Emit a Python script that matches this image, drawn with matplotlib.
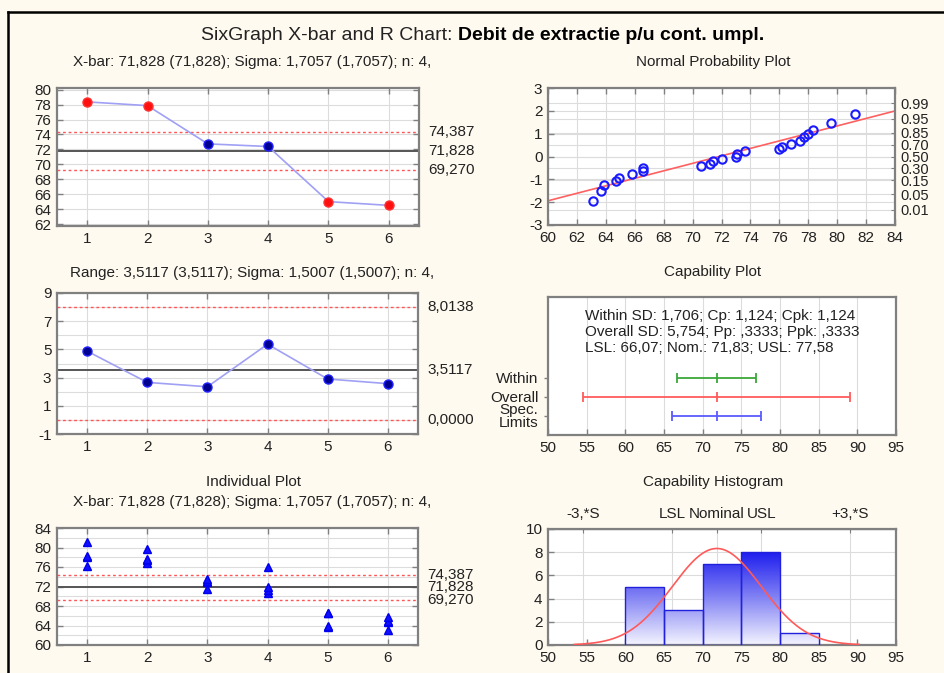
import numpy as np
import matplotlib
matplotlib.use("Agg")
import matplotlib.pyplot as plt
from matplotlib.colors import LinearSegmentedColormap
from matplotlib.lines import Line2D
import matplotlib.transforms as mtransforms

plt.rcParams['font.family'] = ['Liberation Sans', 'DejaVu Sans']
plt.rcParams['axes.unicode_minus'] = False

# ---------------- data ----------------
subgroups = [1, 2, 3, 4, 5, 6]
xbar_values = [78.35, 77.85, 72.75, 72.40, 65.05, 64.55]
xbar_limits = [74.387, 71.828, 69.270]          # UCL, CL, LCL
xbar_limit_labels = ["74,387", "71,828", "69,270"]

range_values = [4.88, 2.66, 2.35, 5.37, 2.90, 2.57]
range_limits = [8.0138, 3.5117, 0.0]
range_limit_labels = ["8,0138", "3,5117", "0,0000"]

individuals = [
    [76.2, 78.0, 78.3, 81.2],
    [76.8, 77.4, 77.7, 79.6],
    [71.4, 73.0, 73.1, 73.6],
    [70.6, 71.2, 72.0, 76.0],
    [63.7, 63.9, 66.6, 66.6],
    [63.1, 64.7, 64.9, 65.8],
]

npp_z = [-1.95, -1.51, -1.25, -1.09, -0.92, -0.76, -0.64, -0.49, -0.41, -0.32,
         -0.20, -0.10, -0.01, 0.13, 0.25, 0.32, 0.42, 0.55, 0.70, 0.85, 0.99,
         1.18, 1.47, 1.88]
fit_mean = 71.83
fit_sd = 6.1
prob_labels = ["0.01", "0.05", "0.15", "0.30", "0.50", "0.70", "0.85", "0.95", "0.99"]
prob_z = [-2.326, -1.645, -1.036, -0.524, 0.0, 0.524, 1.036, 1.645, 2.326]

cap_names = ["Within", "Overall", "Spec.\nLimits"]
cap_center = [71.83, 71.83, 71.83]
cap_low = [66.71, 54.57, 66.07]
cap_high = [76.95, 89.09, 77.58]
cap_colors = ["#3aa83a", "#ff5a5a", "#5a5aff"]
cap_text = ("Within SD: 1,706; Cp: 1,124; Cpk: 1,124\n"
            "Overall SD: 5,754; Pp: ,3333; Ppk: ,3333\n"
            "LSL: 66,07; Nom.: 71,83; USL: 77,58")

hist_left = [60, 65, 70, 75, 80]
hist_counts = [5, 3, 7, 8, 1]
hist_width = 5
overall_mean = 71.83
overall_sd = 5.754
n_total = 24
top_marks = [54.57, 66.07, 71.83, 77.58, 89.09]
top_labels = ["-3,*S", "LSL", "Nominal", "USL", "+3,*S"]

xbar_sub = "X-bar: 71,828 (71,828); Sigma: 1,7057 (1,7057); n: 4,"
range_sub = "Range: 3,5117 (3,5117); Sigma: 1,5007 (1,5007); n: 4,"

# ---------------- style ----------------
W, H = 944, 673
BG = "#fffaf0"
GRID = "#dcdcdc"
FRAME = "#808080"
TXT = "#222222"
TS = 11
SUB = 11

fig = plt.figure(figsize=(W / 100, H / 100), dpi=100, facecolor=BG)


def box(l, t, r, b):
    return [l / W, 1 - b / H, (r - l) / W, (b - t) / H]


def style(ax):
    ax.set_facecolor("white")
    for s in ax.spines.values():
        s.set_color(FRAME)
        s.set_linewidth(1.6)
    ax.tick_params(direction="in", length=4, width=1, color=FRAME,
                   labelsize=TS, labelcolor=TXT, top=True, right=True, pad=4)
    ax.set_axisbelow(True)


def ftext(xpx, ypx, s, **kw):
    kw.setdefault("fontsize", SUB)
    kw.setdefault("color", TXT)
    kw.setdefault("ha", "center")
    kw.setdefault("va", "center")
    fig.text(xpx / W, 1 - ypx / H, s, **kw)


# outer frame
fig.add_artist(Line2D([8 / W, 1.0], [1 - 11.5 / H, 1 - 11.5 / H], color="black", lw=1.8))
fig.add_artist(Line2D([8 / W, 8 / W], [1 - 11.5 / H, 0], color="black", lw=1.8))

# title (two parts)
t1 = fig.text(0, 1 - 36 / H, "SixGraph X-bar and R Chart: ", fontsize=14, color=TXT, va="center")
t2 = fig.text(0, 1 - 36 / H, "Debit de extractie p/u cont. umpl.", fontsize=14,
              fontweight="bold", color="black", va="center")
fig.canvas.draw()
w1 = t1.get_window_extent().width
w2 = t2.get_window_extent().width
x0 = 483 - (w1 + w2) / 2
t1.set_x(x0 / W)
t2.set_x((x0 + w1) / W)


def control_chart(ax, limits, labels, ylim, yticks):
    style(ax)
    ax.set_xlim(0.5, 6.5)
    ax.set_ylim(*ylim)
    ax.set_xticks(subgroups)
    ax.set_yticks(yticks)
    ax.grid(True, axis="x", color=GRID, lw=0.8)
    ax.axhline(limits[0], color="#ff5555", lw=1, ls=(0, (2, 2)))
    ax.axhline(limits[2], color="#ff5555", lw=1, ls=(0, (2, 2)))
    ax.axhline(limits[1], color="#555555", lw=1.4)
    trans = mtransforms.blended_transform_factory(ax.transAxes, ax.transData)
    for v, lab in zip(limits, labels):
        ax.text(1.025, v, lab, transform=trans, fontsize=TS, color=TXT,
                va="center", ha="left", clip_on=False)


# ---------- X-bar chart ----------
ax1 = fig.add_axes(box(57, 88, 419, 226))
control_chart(ax1, xbar_limits, xbar_limit_labels, (61.8, 80.2), np.arange(62, 81, 2))
for y in np.arange(62, 81, 2):
    ax1.axhline(y, color=GRID, lw=0.8, zorder=0)
ax1.plot(subgroups, xbar_values, color="#a0a0f5", lw=1.2, zorder=2)
for x, v in zip(subgroups, xbar_values):
    out = v > xbar_limits[0] or v < xbar_limits[2]
    ax1.plot(x, v, "o", ms=6.5, mfc="#ff1010" if out else "#000090",
             mec="#ff3030" if out else "#2020ff", mew=1, zorder=3)
ftext(252, 62, xbar_sub)

# ---------- Range chart ----------
ax2 = fig.add_axes(box(57, 293, 418, 434))
control_chart(ax2, range_limits, range_limit_labels, (-1, 9), [-1, 1, 3, 5, 7, 9])
for y in range(-1, 10):
    ax2.axhline(y, color=GRID, lw=0.8, zorder=0)
ax2.plot(subgroups, range_values, color="#a0a0f5", lw=1.2, zorder=2)
ax2.plot(subgroups, range_values, "o", ms=6.5, mfc="#000090", mec="#2020ff", mew=1, zorder=3)
ftext(252, 273, range_sub)

# ---------- Individual plot ----------
ax3 = fig.add_axes(box(57, 528, 418, 645))
control_chart(ax3, xbar_limits, xbar_limit_labels, (60, 84), np.arange(60, 85, 4))
for y in np.arange(60, 85, 2):
    ax3.axhline(y, color=GRID, lw=0.8, zorder=0)
for x, grp in zip(subgroups, individuals):
    ax3.plot([x] * len(grp), grp, "^", ms=6, color="#1010ff", mec="#0000ee", zorder=3)
ftext(253, 482, "Individual Plot")
ftext(252, 502, xbar_sub)

# ---------- Normal probability plot ----------
ax4 = fig.add_axes(box(548, 88, 895, 225))
style(ax4)
ax4.tick_params(right=False)
ax4.set_xlim(60, 84)
ax4.set_ylim(-3, 3)
ax4.set_xticks(np.arange(60, 85, 2))
ax4.set_yticks(np.arange(-3, 4, 1))
ax4.grid(True, axis="x", color=GRID, lw=0.8)
for y in list(range(-3, 4)) + prob_z:
    ax4.axhline(y, color=GRID, lw=0.8, zorder=0)
npp_x = sorted([v for grp in individuals for v in grp])
lx = np.array([60, 84])
ax4.plot(lx, (lx - fit_mean) / fit_sd, color="#ff6060", lw=1.2, zorder=2)
ax4.plot(npp_x, npp_z, "o", ms=6, mfc="none", mec="#1a1aff", mew=1.5, zorder=3)
ax4r = ax4.twinx()
ax4r.set_ylim(-3, 3)
ax4r.set_yticks(prob_z)
ax4r.set_yticklabels(prob_labels)
ax4r.tick_params(direction="in", length=3, color=FRAME, labelsize=10.5, labelcolor=TXT, pad=4)
for s in ax4r.spines.values():
    s.set_visible(False)
ftext(713, 62, "Normal Probability Plot")

# ---------- Capability plot ----------
ax5 = fig.add_axes(box(548, 297, 896, 435))
style(ax5)
ax5.tick_params(top=False, right=False)
ax5.tick_params(axis="y", direction="out", length=3)
ax5.set_xlim(50, 95)
ax5.set_ylim(0, 7.2)
ax5.set_xticks(np.arange(50, 96, 5))
ax5.grid(True, axis="x", color=GRID, lw=0.8)
cap_y = [3, 2, 1]
ax5.set_yticks(cap_y)
ax5.set_yticklabels(cap_names, linespacing=0.85)
for y, c, lo, hi, col in zip(cap_y, cap_center, cap_low, cap_high, cap_colors):
    ax5.hlines(y, lo, hi, color=col, lw=1.3)
    ax5.plot([lo, c, hi], [y, y, y], "|", color=col, ms=7, mew=1.3)
ax5.text(0.106, 0.915, cap_text, transform=ax5.transAxes, fontsize=11, color=TXT,
         va="top", ha="left", linespacing=1.2)
ftext(713, 272, "Capability Plot")

# ---------- Capability histogram ----------
ax6 = fig.add_axes(box(548, 529, 896, 645))
style(ax6)
ax6.tick_params(top=False, right=False)
ax6.set_xlim(50, 95)
ax6.set_ylim(0, 10)
ax6.set_xticks(np.arange(50, 96, 5))
ax6.set_yticks(np.arange(0, 11, 2))
for y in range(0, 11, 2):
    ax6.axhline(y, color=GRID, lw=0.8, zorder=0)
for x in top_marks:
    ax6.axvline(x, color=GRID, lw=0.8, zorder=0)
cmap = LinearSegmentedColormap.from_list("g", ["#f4f4ff", "#8080f4", "#1414ee"])
grad = np.linspace(0, 1, 256).reshape(-1, 1)
bars = ax6.bar(hist_left, hist_counts, width=hist_width, align="edge",
               facecolor="none", edgecolor="#2020dd", lw=1, zorder=3)
for b in bars:
    im = ax6.imshow(grad, cmap=cmap, origin="lower", aspect="auto",
                    extent=(50, 95, 0, 8.4), zorder=2, interpolation="bilinear")
    im.set_clip_path(b)
ax6.set_xlim(50, 95)
ax6.set_ylim(0, 10)
xs = np.linspace(overall_mean - 3.2 * overall_sd, overall_mean + 3.2 * overall_sd, 300)
dens = n_total * hist_width / (overall_sd * np.sqrt(2 * np.pi)) * np.exp(-0.5 * ((xs - overall_mean) / overall_sd) ** 2)
ax6.plot(xs, dens, color="#ff5a5a", lw=1.2, zorder=4)
ax6t = ax6.secondary_xaxis("top")
ax6t.set_xticks(top_marks)
ax6t.set_xticklabels(top_labels)
ax6t.tick_params(direction="in", length=3, color=FRAME, labelsize=TS, labelcolor=TXT, pad=6)
ftext(713, 482, "Capability Histogram")

fig.savefig("out.png", dpi=100, facecolor=BG)
